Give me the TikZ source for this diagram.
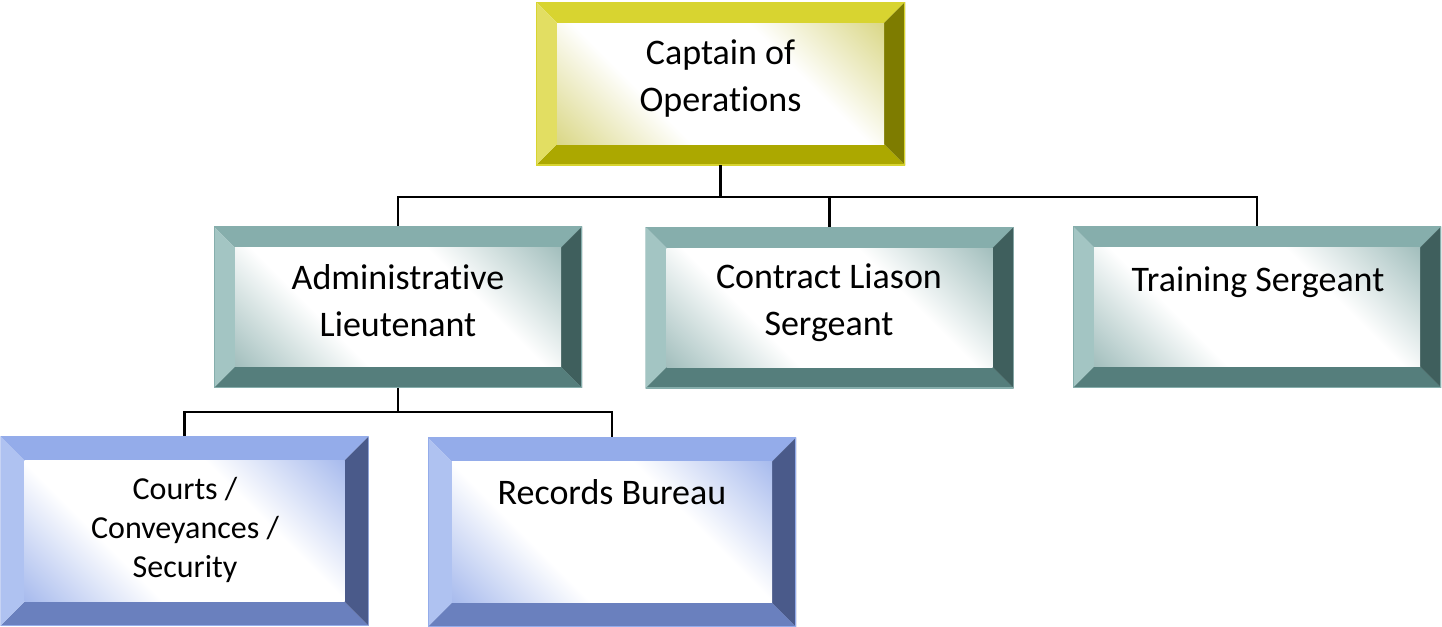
\documentclass[tikz,border=0pt]{standalone}
\usepackage{fontspec}
\setmainfont{Carlito}[Ligatures=NoCommon]
\usetikzlibrary{positioning}
\usepackage{xcolor}

% bevel colours: top, left, right, bottom, tint of the face
\definecolor{captop}{HTML}{D8D430}
\definecolor{capleft}{HTML}{E2DE62}
\definecolor{capright}{HTML}{7E7C00}
\definecolor{capbot}{HTML}{ACA800}
\definecolor{capmid}{HTML}{CFCB62}
\definecolor{tltop}{HTML}{86AEAC}
\definecolor{tlleft}{HTML}{A3C5C3}
\definecolor{tlright}{HTML}{3F5F5D}
\definecolor{tlbot}{HTML}{557E7C}
\definecolor{tlmid}{HTML}{86ABA9}
\definecolor{bltop}{HTML}{94ACEA}
\definecolor{blleft}{HTML}{AFC2F1}
\definecolor{blright}{HTML}{4A5A8A}
\definecolor{blbot}{HTML}{6A80BE}
\definecolor{blmid}{HTML}{8DA6E8}
\colorlet{bvl}{white}

\pgfdeclareverticalshading[bvl]{bevelfill}{100bp}{color(0bp)=(bvl); color(8bp)=(bvl); color(36bp)=(white); color(64bp)=(white); color(92bp)=(bvl); color(100bp)=(bvl)}

\begin{document}
\begin{tikzpicture}[
    x=0.5pt, y=-0.5pt,
    every node/.style={font=\fontsize{18}{23.5}\selectfont},
    box/.style 2 args={inner sep=0pt, minimum width=184pt, minimum height=80.5pt,
        path picture={
            \coordinate (nw) at (path picture bounding box.north west);
            \coordinate (ne) at (path picture bounding box.north east);
            \coordinate (sw) at (path picture bounding box.south west);
            \coordinate (se) at (path picture bounding box.south east);
            \fill[#1top] (nw) -- (ne) -- ([shift={(-#2,-#2)}]ne) -- ([shift={(#2,-#2)}]nw) -- cycle;
            \fill[#1bot] (sw) -- (se) -- ([shift={(-#2,#2)}]se) -- ([shift={(#2,#2)}]sw) -- cycle;
            \fill[#1left] (nw) -- (sw) -- ([shift={(#2,#2)}]sw) -- ([shift={(#2,-#2)}]nw) -- cycle;
            \fill[#1right] (ne) -- (se) -- ([shift={(-#2,#2)}]se) -- ([shift={(-#2,-#2)}]ne) -- cycle;
            \colorlet{bvl}{#1mid}
            \shade[shading=bevelfill, shading angle=-45] ([shift={(#2,#2)}]sw) rectangle ([shift={(-#2,-#2)}]ne);
            \draw[#1top, line width=0.6pt] (sw) rectangle (ne);
        }},
    lbl/.style={align=center, inner sep=0pt},
    link/.style={line width=1.2pt, black}
]
\useasboundingbox (0,0) rectangle (1442,627);

% boxes
\node[box={cap}{10.5pt}, minimum width=184.5pt, minimum height=81.5pt] (cap) at (720.5,83.5) {};
\node[box={tl}{10.5pt}] (adm) at (398,307) {};
\node[box={tl}{10.5pt}] (con) at (829.5,307.5) {};
\node[box={tl}{10.5pt}] (trn) at (1257,307) {};
\node[box={bl}{12pt}, minimum height=94.5pt] (crt) at (184.5,531) {};
\node[box={bl}{12pt}, minimum height=94.5pt] (rec) at (612,532) {};

% connectors
\coordinate (cap-bus) at (cap.south |- 0,197);
\coordinate (adm-bus) at (adm.south |- 0,412);
\draw[link] (cap.south) -- (cap-bus) -| (adm.north);
\draw[link] (cap-bus) -| (con.north);
\draw[link] (cap-bus) -| (trn.north);
\draw[link] (adm.south) -- (adm-bus) -| (crt.north);
\draw[link] (adm-bus) -| (rec.north);

% texts
\node[lbl] (cap-t) at (720.5,78.5) {Captain of\\Operations};
\node[lbl] (adm-t) at (398,300.5) {Administrative\\Lieutenant};
\node[lbl] (con-t) at (829,302.5) {Contract Liason\\Sergeant};
\node[lbl] (trn-t) at (1258,282) {Training Sergeant};
\node[lbl, font=\fontsize{16}{19.3}\selectfont] (crt-t) at (185,530) {Courts /\\Conveyances /\\Security};
\node[lbl] (rec-t) at (612,492) {Records Bureau};
\end{tikzpicture}
\end{document}
